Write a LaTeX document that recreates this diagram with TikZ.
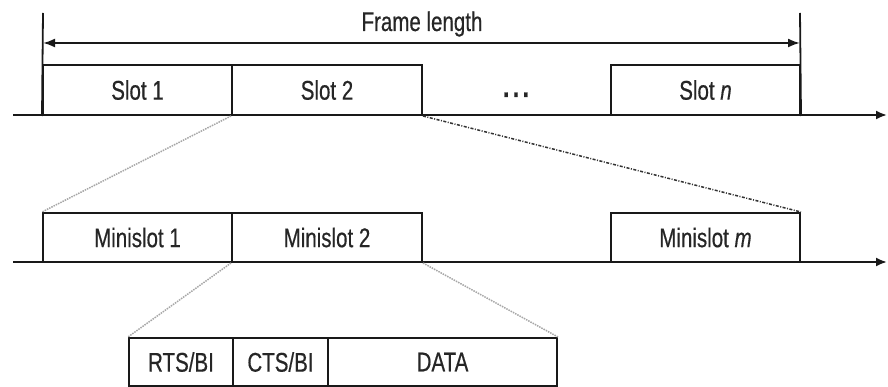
\documentclass[tikz,border=0pt]{standalone}
\usepackage{fontspec}
\setmainfont{Liberation Sans}[FakeStretch=0.76, FakeBold=0.5]
\usetikzlibrary{arrows.meta}
\begin{document}
\begin{tikzpicture}[x=1pt,y=-1pt,
  lbl/.style={font=\fontsize{27}{30}\selectfont, text=black!85},
  cell/.style={draw=black!90, line width=2pt, minimum height=50pt, inner sep=0pt, lbl},
  axisline/.style={draw=black!90, line width=2pt, -{Latex[length=11pt,width=9pt]}},
  bar/.style={draw=black!90, line width=1.8pt},
  zoomline/.style={gray!70, line width=1.5pt, densely dotted},
  zoomdash/.style={black!80, line width=1.5pt, dash pattern=on 3pt off 1.5pt on 1pt off 1.5pt}]
\useasboundingbox (0,0) rectangle (888,387);

% frame of n slots
\node[cell, minimum width=189pt] (s1) at (137.5,90) {Slot 1};
\node[cell, minimum width=190pt] (s2) at (327,90) {Slot 2};
\node[cell, minimum width=189pt] (sn) at (705.5,90) {Slot \textit{n}};
\node[font=\fontsize{30}{30}\bfseries\selectfont, text=black!85, anchor=base] (dots) at (516,97)
  {.\hspace{3.5pt}.\hspace{3.5pt}.};

\coordinate (a0) at (13,115);
\coordinate (a1) at (887,115);
\draw[axisline] (a0) -- (a1);

% frame length marker
\coordinate (lt) at (43,13);
\coordinate (rt) at (800,13);
\draw[bar] (lt) -- (s1.south west);
\draw[bar] (rt) -- (sn.south east);
\coordinate (fl) at (43,43);
\coordinate (fr) at (800,43);
\draw[draw=black!90, line width=2pt, {Latex[length=12pt,width=9pt]}-{Latex[length=12pt,width=9pt]}] (fl) -- (fr);
\node[lbl, anchor=base] (flen) at (422,31) {Frame length};

% minislots of one slot
\node[cell, minimum width=189pt, minimum height=49pt] (m1) at (137.5,237.5) {Minislot 1};
\node[cell, minimum width=190pt, minimum height=49pt] (m2) at (327,237.5) {Minislot 2};
\node[cell, minimum width=189pt, minimum height=49pt] (mm) at (705.5,237.5) {Minislot \textit{m}};

\coordinate (b0) at (13,262);
\coordinate (b1) at (887,262);
\draw[axisline] (b0) -- (b1);

% fields of one minislot
\node[cell, minimum width=104pt, minimum height=48pt] (rts) at (181,362) {RTS/BI};
\node[cell, minimum width=95pt, minimum height=48pt] (cts) at (280.5,362) {CTS/BI};
\node[cell, minimum width=229pt, minimum height=48pt] (data) at (442.5,362) {DATA};

% expansion lines
\draw[zoomline] (s2.south west) -- (m1.north west);
\draw[zoomdash] (s2.south east) -- (mm.north east);
\draw[zoomline] (m2.south west) -- (rts.north west);
\draw[zoomline] (m2.south east) -- (data.north east);
\end{tikzpicture}
\end{document}
